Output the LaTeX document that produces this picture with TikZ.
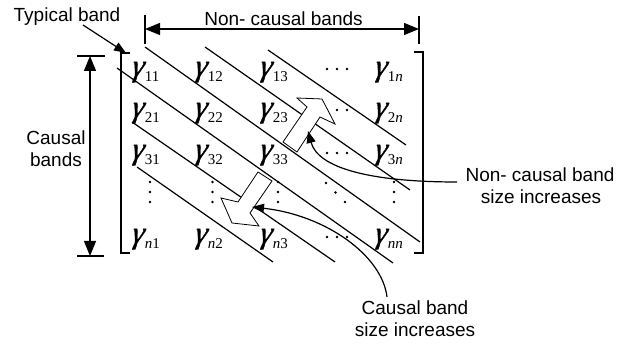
\documentclass[tikz,border=0pt]{standalone}
\usepackage{fontspec}
\setmainfont{Liberation Sans}
\newfontfamily\serifg{Liberation Serif}
\newfontface\gfont{Liberation Serif Italic}[FakeBold=1.2,FakeSlant=0.15]
\usetikzlibrary{arrows.meta}
\newcommand\gmm[1]{{\gfont\fontsize{31}{31}\selectfont γ}\kern1.5pt\raisebox{-6pt}{\serifg\fontsize{15}{15}\selectfont #1}}
\newcommand\ii[1]{\textit{#1}}
\begin{document}
\begin{tikzpicture}[x=1pt,y=-1pt,
  lbl/.style={font=\fontsize{19}{22}\selectfont, inner sep=0pt, anchor=base},
  ent/.style={inner sep=0pt, anchor=base west},
  bandline/.style={line width=1.2pt},
  brk/.style={line width=1.2pt},
  blk/.style={draw, fill=white, line width=0.8pt, line join=miter},
  dimarrow/.style={line width=1.2pt, {Triangle[length=15pt,width=12pt]}-{Triangle[length=15pt,width=12pt]}},
  ptr/.style={line width=1.2pt, -{Triangle[length=12pt,width=9pt]}},
  mdot/.style={fill=black}]
\useasboundingbox (0,0) rectangle (619,344);

% labels
\node[lbl] (typ) at (67,22) {Typical band};
\node[lbl] (nct) at (283.5,26) {Non- causal bands};
\node[lbl] (cb1) at (56,145) {Causal};
\node[lbl] (cb2) at (56,167) {bands};
\node[lbl] (nr1) at (540,182) {Non- causal band};
\node[lbl] (nr2) at (541,204) {size increases};
\node[lbl] (cr1) at (415,315) {Causal band};
\node[lbl] (cr2) at (415,337) {size increases};

% matrix entries
\node[ent] (g11) at (131,76) {\gmm{11}};
\node[ent] (g12) at (194,76) {\gmm{12}};
\node[ent] (g13) at (259,76) {\gmm{13}};
\node[ent] (g1n) at (374,76) {\gmm{1\ii{n}}};
\node[ent] (g21) at (131,117) {\gmm{21}};
\node[ent] (g22) at (194,117) {\gmm{22}};
\node[ent] (g23) at (259,117) {\gmm{23}};
\node[ent] (g2n) at (374,117) {\gmm{2\ii{n}}};
\node[ent] (g31) at (131,159) {\gmm{31}};
\node[ent] (g32) at (194,159) {\gmm{32}};
\node[ent] (g33) at (259,159) {\gmm{33}};
\node[ent] (g3n) at (374,159) {\gmm{3\ii{n}}};
\node[ent] (gn1) at (131,243) {\gmm{\ii{n}1}};
\node[ent] (gn2) at (194,243) {\gmm{\ii{n}2}};
\node[ent] (gn3) at (259,243) {\gmm{\ii{n}3}};
\node[ent] (gnn) at (374,243) {\gmm{\ii{nn}}};

% dots
\foreach \yy in {69,110,153,237} {
  \foreach \xx in {327,337,347} { \fill[mdot] (\xx,\yy) circle[radius=1.3]; }
}
\foreach \xx in {150,212.5,278,394} {
  \foreach \yy in {182,192,202} { \fill[mdot] (\xx,\yy) circle[radius=1.3]; }
}
\fill[mdot] (326,183) circle[radius=1.3];
\fill[mdot] (335.5,192.5) circle[radius=1.3];
\fill[mdot] (345,202) circle[radius=1.3];

% brackets
\coordinate (lbt) at (121,53);
\coordinate (lbb) at (121,253);
\coordinate (rbt) at (423,52);
\coordinate (rbb) at (423,253);
\draw[brk] ([xshift=9pt]lbt) -- (lbt) -- (lbb) -- ([xshift=9pt]lbb);
\draw[brk] ([xshift=-9pt]rbt) -- (rbt) -- (rbb) -- ([xshift=-9pt]rbb);

% band lines
\coordinate (p1) at (145,47);  \coordinate (p2) at (420,242);
\coordinate (q1) at (205,47);  \coordinate (q2) at (410,190);
\coordinate (u1) at (268,50);  \coordinate (u2) at (406,145);
\coordinate (r1) at (117,68);  \coordinate (r2) at (393,263);
\coordinate (s1) at (132,122); \coordinate (s2) at (335,262);
\coordinate (t1) at (137,167); \coordinate (t2) at (273,262);
\foreach \a/\b in {p1/p2,q1/q2,u1/u2,r1/r2,s1/s2,t1/t2} { \draw[bandline] (\a) -- (\b); }

% dimension arrows
\coordinate (ncl) at (145,29); \coordinate (ncr) at (419,29);
\draw[line width=1.2pt] (145,15) -- (145,44);
\draw[line width=1.2pt] (419,16) -- (419,44);
\draw[dimarrow] (ncl) -- (ncr);
\coordinate (cbt) at (90,56); \coordinate (cbb) at (90,256);
\draw[line width=1.2pt] (77,56) -- (105,56);
\draw[line width=1.2pt] (77,256) -- (104,256);
\draw[dimarrow] (cbt) -- (cbb);

% typical band pointer
\coordinate (typs) at (83,25);
\draw[ptr] (typs) -- (126,53);

% block arrows
\draw[blk] (283,142) -- (307,107) -- (297,98) -- (322,99) -- (335,124) -- (320,117) -- (297,152) -- cycle;
\draw[blk] (258,172) -- (272,181) -- (250,213) -- (259,226) -- (232,223) -- (221,198) -- (238,202) -- cycle;

% curved pointers
\coordinate (ncs) at (457,182);
\coordinate (nce) at (308,131);
\draw[ptr] (ncs) .. controls (370,182) and (318,168) .. (nce);
\coordinate (crs) at (387,297);
\coordinate (cre) at (252,207);
\draw[ptr] (crs) .. controls (382,255) and (325,215) .. (cre);
\end{tikzpicture}
\end{document}
